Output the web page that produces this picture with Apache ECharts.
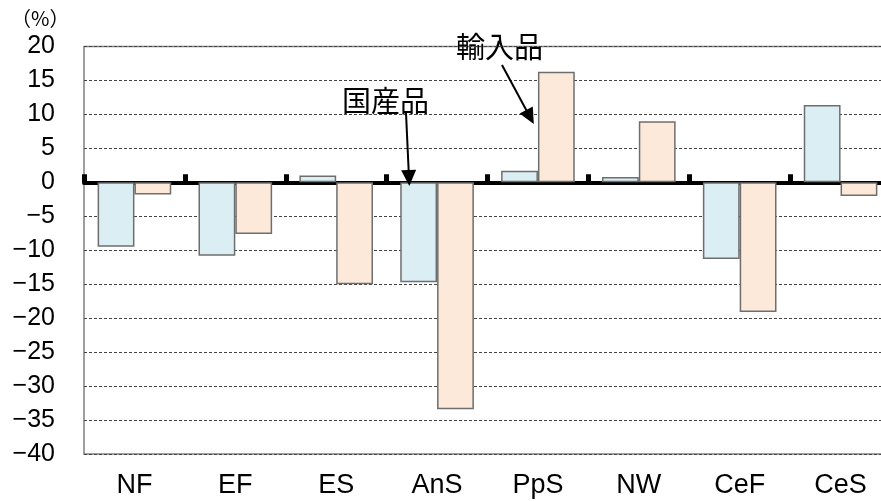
<!DOCTYPE html>
<html><head><meta charset="utf-8">
<script src="https://cdn.jsdelivr.net/npm/echarts@6/dist/echarts.min.js"></script>
<style>html,body{margin:0;padding:0;background:#fff}#c{width:881px;height:501px}</style>
</head><body><div id="c"></div>
<script>
const categories = ['NF','EF','ES','AnS','PpS','NW','CeF','CeS'];
const domestic = [-9.5,-10.8,1.0,-14.7,1.7,0.8,-11.3,11.4];
const imported = [-1.8,-7.6,-15.0,-33.4,16.3,9.0,-19.1,-2.0];
const yTicks = {min:-40, max:20, interval:5};

const chart = echarts.init(document.getElementById('c'));
const latin = "'Liberation Sans',Arial,sans-serif";
const cjk = "'Noto Sans CJK JP','Noto Sans CJK SC',sans-serif";
chart.setOption({
  animation:false,
  backgroundColor:'#fff',
  grid:{left:84, top:46.5, height:407.5, width:807, outerBoundsMode:'none', containLabel:false,
        show:true, borderColor:'#808080', borderWidth:1.5, backgroundColor:'transparent'},
  xAxis:[
    {type:'category', data:categories, position:'bottom',
     axisLine:{show:false, onZero:false}, axisTick:{show:false},
     axisLabel:{fontFamily:latin, fontSize:27, color:'#000', margin:18}},
    {type:'category', data:categories, position:'bottom',
     axisLine:{show:true, onZero:true, lineStyle:{color:'#000', width:4}},
     axisTick:{show:true, inside:true, length:8, lineStyle:{color:'#000', width:5}},
     axisLabel:{show:false}}
  ],
  yAxis:{type:'value', min:yTicks.min, max:yTicks.max, interval:yTicks.interval,
    axisLine:{show:false}, axisTick:{show:false},
    axisLabel:{fontFamily:latin, fontSize:25, color:'#000', margin:29,
      formatter:v => String(v).replace('-', '\u2212')},
    splitLine:{show:true, lineStyle:{color:'#444', width:1, type:[3,2]}}},
  series:[
    {name:'国産品', type:'bar', data:domestic, xAxisIndex:0, barGap:'0%', barCategoryGap:'27%',
     itemStyle:{color:'#DAEEF3', borderColor:'#6e6e6e', borderWidth:1.5},
     markLine:{silent:true, symbol:['none','triangle'], symbolSize:[15,16], label:{show:false},
       lineStyle:{color:'#000', width:2, type:'solid'},
       data:[
         [{x:406, y:113},{x:409, y:178}],
         [{x:502, y:65},{x:530, y:117}]
       ]}},
    {name:'輸入品', type:'bar', data:imported, xAxisIndex:0,
     itemStyle:{color:'#FDE9D9', borderColor:'#6e6e6e', borderWidth:1.5}}
  ],
  graphic:[
    {type:'text', left:11, top:8, style:{text:'（%）', font:"20px "+cjk, fill:'#000'}},
    {type:'text', left:342, top:86, style:{text:'国産品', font:"29px "+cjk, fill:'#000'}},
    {type:'text', left:456, top:32, style:{text:'輸入品', font:"29px "+cjk, fill:'#000'}}
  ]
});
</script></body></html>
